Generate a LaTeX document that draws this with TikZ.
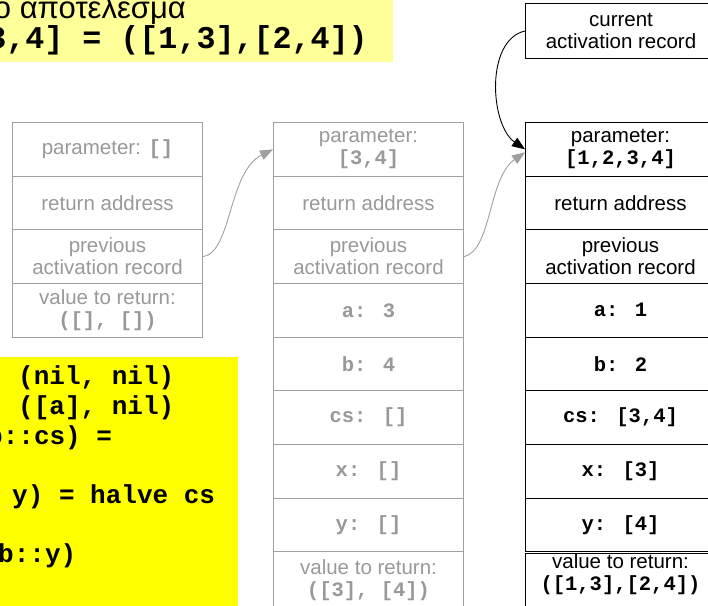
\documentclass[tikz,border=0pt]{standalone}
\usepackage{fontspec}
\setmainfont{Liberation Sans}
\newfontfamily\codefont{Liberation Mono}
\usetikzlibrary{arrows.meta}
\definecolor{grayline}{HTML}{A0A0A0}
\definecolor{graytext}{HTML}{999999}
\definecolor{paleyellow}{HTML}{FFFF99}
\definecolor{codeyellow}{HTML}{FFFF00}
\newcommand{\cd}[1]{{\codefont\bfseries #1}}
\begin{document}
\begin{tikzpicture}[x=1pt,y=-1pt,
  cell/.style={draw, minimum width=190pt, minimum height=53.67pt, inner sep=0pt,
    anchor=north west, align=center, font=\fontsize{20.5}{22}\selectfont, line width=1pt},
  oldcell/.style={cell, draw=grayline, text=graytext},
  newcell/.style={cell, draw=black, text=black},
  lastcell/.style={minimum height=70pt},
  codeline/.style={anchor=base west, inner sep=0pt, font=\codefont\bfseries\fontsize{26}{30}\selectfont},
  headline/.style={anchor=base east, inner sep=0pt},
  grayarrow/.style={draw=grayline, line width=0.9pt, -{Triangle[length=13pt,width=10pt]}, fill=none},
  blackarrow/.style={draw=black, line width=0.9pt, -{Triangle[length=13pt,width=10pt]}}
]
\useasboundingbox (0,0) rectangle (708,605);

% top heading box
\fill[paleyellow] (-5,-5) rectangle (393,62);
\node[headline, font=\fontsize{31}{34}\selectfont] (h1) at (186,18) {ο αποτέλεσμα};
\node[headline, font=\codefont\bfseries\fontsize{31.7}{34}\selectfont] (h2) at (368,48) {halve [1,2,3,4] = ([1,3],[2,4])};

% code box
\fill[codeyellow] (-5,357) rectangle (238,610);
\node[codeline] (c1) at (18,384) {(nil, nil)};
\node[codeline] (c2) at (18,414) {([a], nil)};
\node[codeline] (c3) at (-13,444) {b::cs) =};
\node[codeline] (c4) at (12,503) {y) = halve cs};
\node[codeline] (c5) at (-2,562) {b::y)};

% stack 1
\node[oldcell] (s1a) at (12,122) {parameter: \cd{[]}};
\node[oldcell] (s1b) at (12,175.67) {return address};
\node[oldcell] (s1c) at (12,229.33) {previous\\activation record};
\node[oldcell] (s1d) at (12,283) {value to return:\\\cd{([], [])}};

% stack 2
\node[oldcell] (s2a) at (273,122) {parameter:\\\cd{[3,4]}};
\node[oldcell] (s2b) at (273,175.67) {return address};
\node[oldcell] (s2c) at (273,229.33) {previous\\activation record};
\node[oldcell] (s2d) at (273,283) {\cd{a: 3}};
\node[oldcell] (s2e) at (273,336.67) {\cd{b: 4}};
\node[oldcell] (s2f) at (273,390.33) {\cd{cs: []}};
\node[oldcell] (s2g) at (273,444) {\cd{x: []}};
\node[oldcell] (s2h) at (273,497.67) {\cd{y: []}};
\node[oldcell, lastcell] (s2i) at (273,551.33) {value to return:\\\cd{([3], [4])}\\[-4pt]~};

% stack 3
\node[newcell, minimum height=55pt, minimum width=191pt] (cur) at (525,3) {current\\activation record};
\node[newcell] (s3a) at (525,122) {parameter:\\\cd{[1,2,3,4]}};
\node[newcell] (s3b) at (525,175.67) {return address};
\node[newcell] (s3c) at (525,229.33) {previous\\activation record};
\node[newcell] (s3d) at (525,283) {\cd{a: 1}};
\node[newcell] (s3e) at (525,336.67) {\cd{b: 2}};
\node[newcell] (s3f) at (525,390.33) {\cd{cs: [3,4]}};
\node[newcell] (s3g) at (525,444) {\cd{x: [3]}};
\node[newcell] (s3h) at (525,497.67) {\cd{y: [4]}};
\node[newcell, lastcell] (s3i) at (525,553) {value to return:\\\cd{([1,3],[2,4])}\\[14pt]~};

% connectors
\draw[grayarrow] (s1c.east) .. controls (232,252) and (228,172) .. (s2a.west);
\draw[grayarrow] (s2c.east) .. controls (492,250) and (488,178) .. ([yshift=-3pt]s3a.west);
\draw[blackarrow] (cur.west) .. controls (485,40) and (490,125) .. (s3a.west);
\end{tikzpicture}
\end{document}
